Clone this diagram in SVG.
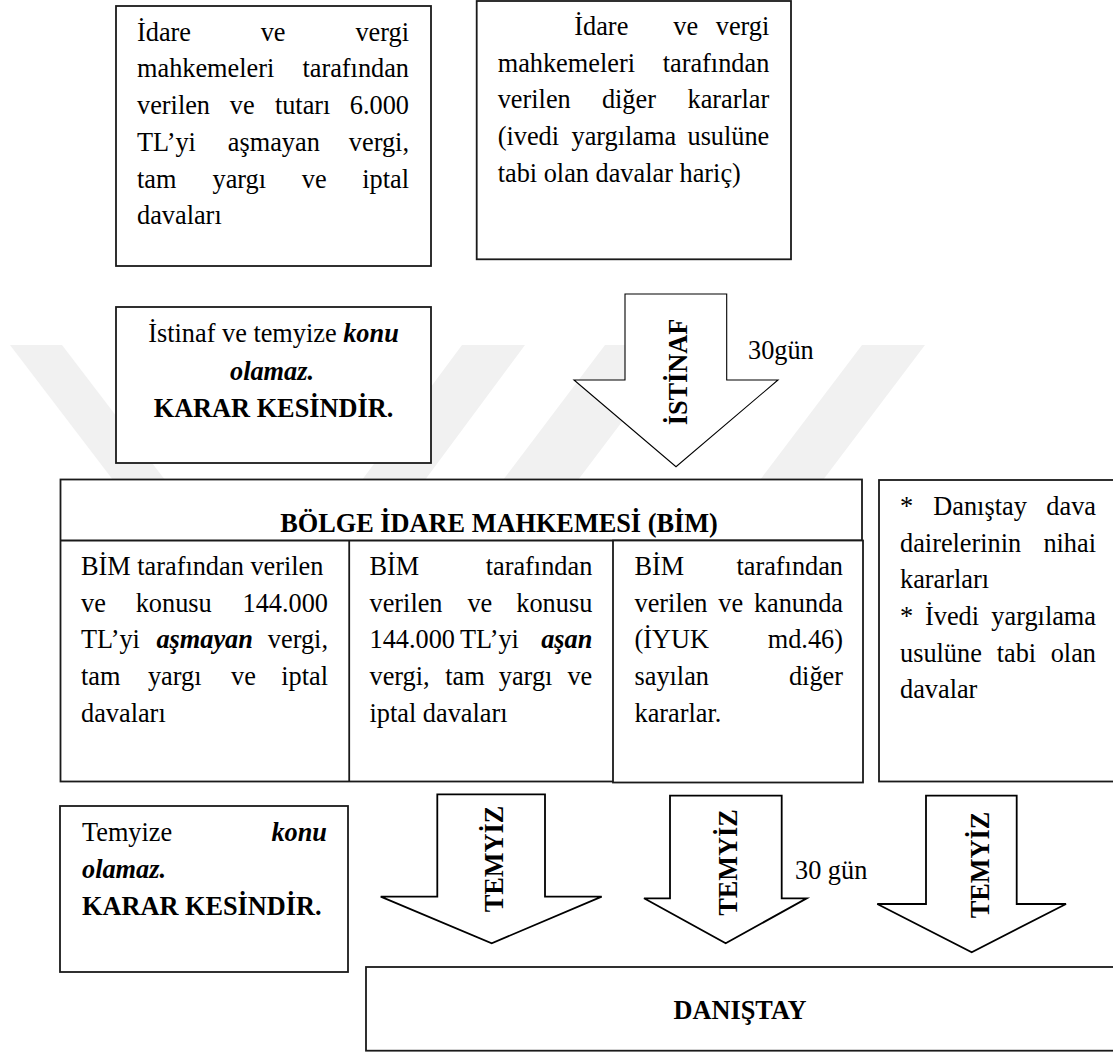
<svg xmlns="http://www.w3.org/2000/svg" width="1113" height="1052" viewBox="0 0 1113 1052">
<style>
.t{font-family:"Liberation Serif","Times New Roman",serif;font-size:26.3px;fill:#000}
.b{font-weight:bold}
.bi{font-weight:bold;font-style:italic}
.e{text-anchor:end}
.m{text-anchor:middle}
.box{fill:#fff;stroke:#1a1a1a;stroke-width:1.8}
.arr{fill:#fff;stroke:#000;stroke-width:1.8}
.arr1{fill:#fff;stroke:#000;stroke-width:1.1}
.wm{fill:#f1f1f1}
</style>
<rect width="1113" height="1052" fill="#fff"/>
<g id="watermark">
<polygon class="wm" points="10,345 62,345 165,480 113,480"/>
<polygon class="wm" points="462,345 525,345 425,480 362,480"/>
<polygon class="wm" points="605,345 680,345 578,480 503,480"/>
<polygon class="wm" points="862,345 925,345 823,480 760,480"/>
</g>
<g id="box-kesin-6000">
<rect class="box" x="116" y="6" width="315" height="260"/>
<text class="t" x="137" y="40.7">İdare</text><text class="t" x="260.7" y="40.7">ve</text><text class="t e" x="409" y="40.7">vergi</text>
<text class="t" x="137" y="77.4">mahkemeleri</text><text class="t e" x="409" y="77.4">tarafından</text>
<text class="t" x="137" y="114.1">verilen</text><text class="t" x="229.8" y="114.1">ve</text><text class="t" x="274.9" y="114.1">tutarı</text><text class="t e" x="409" y="114.1">6.000</text>
<text class="t" x="137" y="150.8">TL’yi</text><text class="t" x="227.8" y="150.8">aşmayan</text><text class="t e" x="409" y="150.8">vergi,</text>
<text class="t" x="137" y="187.5">tam</text><text class="t" x="212.5" y="187.5">yargı</text><text class="t" x="301.8" y="187.5">ve</text><text class="t e" x="409" y="187.5">iptal</text>
<text class="t" x="137" y="224.2">davaları</text>
</g>
<g id="box-diger-kararlar">
<rect class="box" x="476.7" y="1" width="314.3" height="258.3"/>
<text class="t" x="574.3" y="35">İdare</text><text class="t" x="673.3" y="35">ve</text><text class="t e" x="769.3" y="35">vergi</text>
<text class="t" x="497.7" y="71.7">mahkemeleri</text><text class="t e" x="769.3" y="71.7">tarafından</text>
<text class="t" x="497.7" y="108.4">verilen</text><text class="t" x="601.9" y="108.4">diğer</text><text class="t e" x="769.3" y="108.4">kararlar</text>
<text class="t" x="497.7" y="145.1">(ivedi</text><text class="t" x="571.5" y="145.1">yargılama</text><text class="t e" x="769.3" y="145.1">usulüne</text>
<text class="t" x="497.7" y="181.8">tabi olan davalar hariç)</text>
</g>
<g id="box-istinaf-kesin">
<rect class="box" x="116" y="307" width="315" height="156"/>
<text class="t m" x="273.5" y="341.7">İstinaf ve temyize <tspan class="bi">konu</tspan></text>
<text class="t m bi" x="272" y="380">olamaz.</text>
<text class="t m b" x="273.5" y="416.7">KARAR KESİNDİR.</text>
</g>
<g id="bim">
<rect class="box" x="60.5" y="479.5" width="801.5" height="302"/>
<line x1="60.5" y1="540.5" x2="862" y2="540.5" stroke="#1a1a1a" stroke-width="1.8"/>
<line x1="349.2" y1="540.5" x2="349.2" y2="781.5" stroke="#1a1a1a" stroke-width="1.8"/>
<text class="t m b" x="499" y="531.7">BÖLGE İDARE MAHKEMESİ (BİM)</text>
<g id="bim-col1">
<text class="t" x="81" y="575">BİM tarafından verilen</text>
<text class="t" x="81" y="611.7">ve</text><text class="t" x="135.7" y="611.7">konusu</text><text class="t e" x="328" y="611.7">144.000</text>
<text class="t" x="81" y="648.3">TL’yi</text><text class="t bi" x="156.4" y="648.3">aşmayan</text><text class="t e" x="328" y="648.3">vergi,</text>
<text class="t" x="81" y="685">tam</text><text class="t" x="147.9" y="685">yargı</text><text class="t" x="231" y="685">ve</text><text class="t e" x="328" y="685">iptal</text>
<text class="t" x="81" y="721.7">davaları</text>
</g>
<g id="bim-col2">
<text class="t" x="369.5" y="575">BİM</text><text class="t e" x="592.3" y="575">tarafından</text>
<text class="t" x="369.5" y="611.7">verilen</text><text class="t" x="467.4" y="611.7">ve</text><text class="t e" x="592.3" y="611.7">konusu</text>
<text class="t" x="369.5" y="648.3">144.000</text><text class="t" x="460" y="648.3">TL’yi</text><text class="t e bi" x="592.3" y="648.3">aşan</text>
<text class="t" x="369.5" y="685">vergi,</text><text class="t" x="445.3" y="685">tam</text><text class="t" x="498.8" y="685">yargı</text><text class="t e" x="592.3" y="685">ve</text>
<text class="t" x="369.5" y="721.7">iptal davaları</text>
</g>
<g id="bim-col3">
<rect class="box" x="613" y="540.5" width="250" height="242"/>
<text class="t" x="634.5" y="575">BİM</text><text class="t e" x="843" y="575">tarafından</text>
<text class="t" x="634.5" y="611.7">verilen</text><text class="t" x="718.3" y="611.7">ve</text><text class="t e" x="843" y="611.7">kanunda</text>
<text class="t" x="634.5" y="648.3">(İYUK</text><text class="t e" x="843" y="648.3">md.46)</text>
<text class="t" x="634.5" y="685">sayılan</text><text class="t e" x="843" y="685">diğer</text>
<text class="t" x="634.5" y="721.7">kararlar.</text>
</g>
</g>
<g id="box-danistay-dava">
<rect class="box" x="879" y="480" width="240" height="301.5"/>
<text class="t" x="900" y="515">*</text><text class="t" x="933.3" y="515">Danıştay</text><text class="t e" x="1096" y="515">dava</text>
<text class="t" x="900" y="551.7">dairelerinin</text><text class="t e" x="1096" y="551.7">nihai</text>
<text class="t" x="900" y="588.3">kararları</text>
<text class="t" x="900" y="625">*</text><text class="t" x="925" y="625">İvedi</text><text class="t e" x="1096" y="625">yargılama</text>
<text class="t" x="900" y="661.7">usulüne</text><text class="t" x="996.7" y="661.7">tabi</text><text class="t e" x="1096" y="661.7">olan</text>
<text class="t" x="900" y="698.3">davalar</text>
</g>
<g id="box-temyiz-kesin">
<rect class="box" x="60" y="806" width="288" height="166"/>
<text class="t" x="82" y="841">Temyize</text><text class="t e bi" x="327" y="841">konu</text>
<text class="t bi" x="82" y="877.7">olamaz.</text>
<text class="t b" x="82" y="915">KARAR KESİNDİR.</text>
</g>
<g id="danistay">
<rect class="box" x="366" y="967" width="760" height="83.7"/>
<text class="t m b" x="740" y="1019.3">DANIŞTAY</text>
</g>
<g id="connectors">
<polygon class="arr1" points="625,294 726.7,294 726.7,380 778,380 676,466.7 574,380 625,380"/>
<text class="t m b" transform="translate(686.5,372) rotate(-90)">İSTİNAF</text>
<text class="t" x="748" y="359">30gün</text>
<polygon class="arr" points="437.3,794.3 545,794.3 545,896.7 601.7,896.7 491.7,943.3 380.7,896.7 437.3,896.7"/>
<text class="t m b" transform="translate(503,859) rotate(-90)">TEMYİZ</text>
<polygon class="arr" points="670,795.7 781.7,795.7 781.7,898.3 806.7,898.3 725.7,943.3 644,898.3 670,898.3"/>
<text class="t m b" transform="translate(736.7,862.5) rotate(-90)">TEMYİZ</text>
<text class="t" x="795" y="879">30 gün</text>
<polygon class="arr" points="926,795.7 1016.7,795.7 1016.7,904 1066,904 971.7,952.3 877.3,904 926,904"/>
<text class="t m b" transform="translate(989,865) rotate(-90)">TEMYİZ</text>
</g>
</svg>
